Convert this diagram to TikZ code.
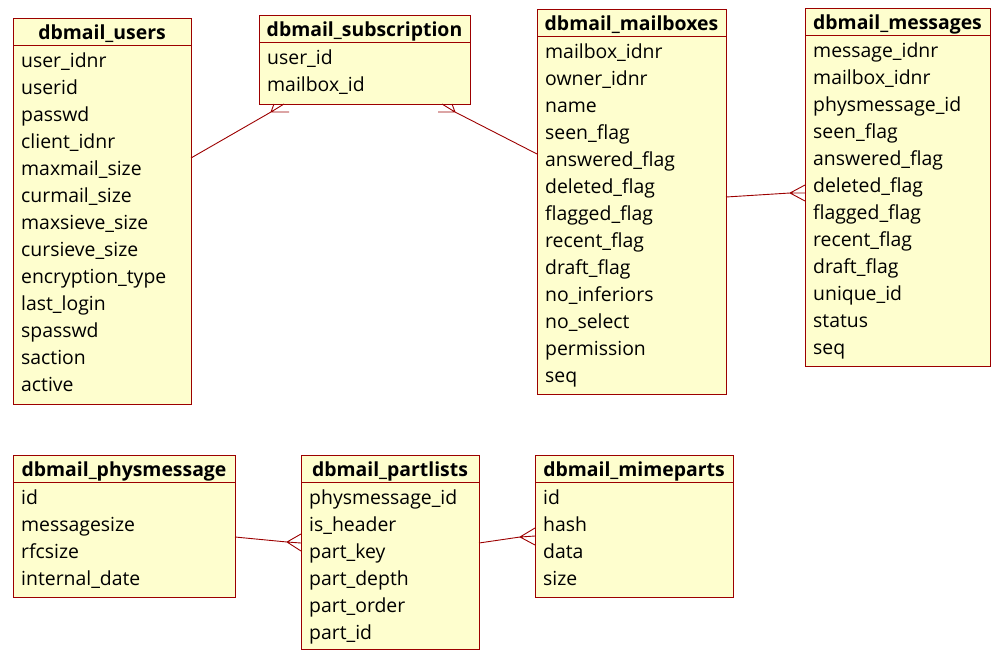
\documentclass[tikz,border=0pt]{standalone}
\usepackage{fontspec}
\setmainfont{Open Sans}
\usetikzlibrary{calc}
\definecolor{entfill}{HTML}{FEFECE}
\definecolor{entline}{HTML}{9C0000}
\catcode`\_=12
\tikzset{
  ent/.style={draw=entline, fill=entfill, line width=1.1pt, rectangle, inner sep=0pt},
  hdrline/.style={draw=entline, line width=1.1pt},
  title/.style={font=\fontsize{19.4}{22}\selectfont\bfseries, anchor=base, inner sep=0pt},
  field/.style={font=\fontsize{19.4}{22}\selectfont, anchor=base west, inner sep=0pt},
  rel/.style={draw=entline, line width=0.9pt},
}
\newcommand\entity[7]{%
  \node[ent, anchor=north west, minimum width={(#4-#2)*1pt}, minimum height={(#5-#3)*1pt}] (#1) at (#2,#3) {};
  \draw[hdrline] ({#2},{#3+27.5}) -- ({#4},{#3+27.5});
  \node[title] (#1-t) at ({(#2+#4)/2},{#3+21.5}) {#6};
  \foreach \f [count=\i] in {#7} \node[field] (#1-\i) at ({#2+8},{#3+49.3+27*(\i-1)}) {\f};
}
\begin{document}
\begin{tikzpicture}[x=1pt,y=-1pt]
\useasboundingbox (0,0) rectangle (1006,659);
\entity{users}{13}{18}{191}{404}{dbmail_users}{user_idnr,userid,passwd,client_idnr,maxmail_size,curmail_size,maxsieve_size,cursieve_size,encryption_type,last_login,spasswd,saction,active}
\entity{subs}{259}{15}{470}{104}{dbmail_subscription}{user_id,mailbox_id}
\entity{mbox}{537}{9}{726}{394}{dbmail_mailboxes}{mailbox_idnr,owner_idnr,name,seen_flag,answered_flag,deleted_flag,flagged_flag,recent_flag,draft_flag,no_inferiors,no_select,permission,seq}
\entity{msgs}{805}{8}{990}{366}{dbmail_messages}{message_idnr,mailbox_idnr,physmessage_id,seen_flag,answered_flag,deleted_flag,flagged_flag,recent_flag,draft_flag,unique_id,status,seq}
\entity{phys}{13}{455}{235}{597}{dbmail_physmessage}{id,messagesize,rfcsize,internal_date}
\entity{parts}{301}{455}{479}{649}{dbmail_partlists}{physmessage_id,is_header,part_key,part_depth,part_order,part_id}
\entity{mime}{535}{455}{733}{597}{dbmail_mimeparts}{id,hash,data,size}

% users -> subscription
\coordinate (a1) at (191,158);
\coordinate (t1) at (271,112);
\draw[rel] (a1) -- (t1);
\draw[rel] (t1) -- (274,104) (t1) -- (284,104) (t1) -- (289,112);
% mailboxes -> subscription
\coordinate (a2) at (537,154);
\coordinate (t2) at (455,112);
\draw[rel] (a2) -- (t2);
\draw[rel] (t2) -- (442,104) (t2) -- (452,104) (t2) -- (438,112);
% mailboxes -> messages
\coordinate (a3) at (726,197);
\coordinate (t3) at (790,193);
\draw[rel] (a3) -- (t3);
\draw[rel] (t3) -- (805,185) (t3) -- (805,193) (t3) -- (805,201);
% physmessage -> partlists
\coordinate (a4) at (235,537);
\coordinate (t4) at (287,542);
\draw[rel] (a4) -- (t4);
\draw[rel] (t4) -- (301,534) (t4) -- (301,543) (t4) -- (301,551);
% partlists -> mimeparts
\coordinate (a5) at (479,543);
\coordinate (t5) at (520,537);
\draw[rel] (a5) -- (t5);
\draw[rel] (t5) -- (535,528) (t5) -- (535,536) (t5) -- (535,545);
\end{tikzpicture}
\end{document}
